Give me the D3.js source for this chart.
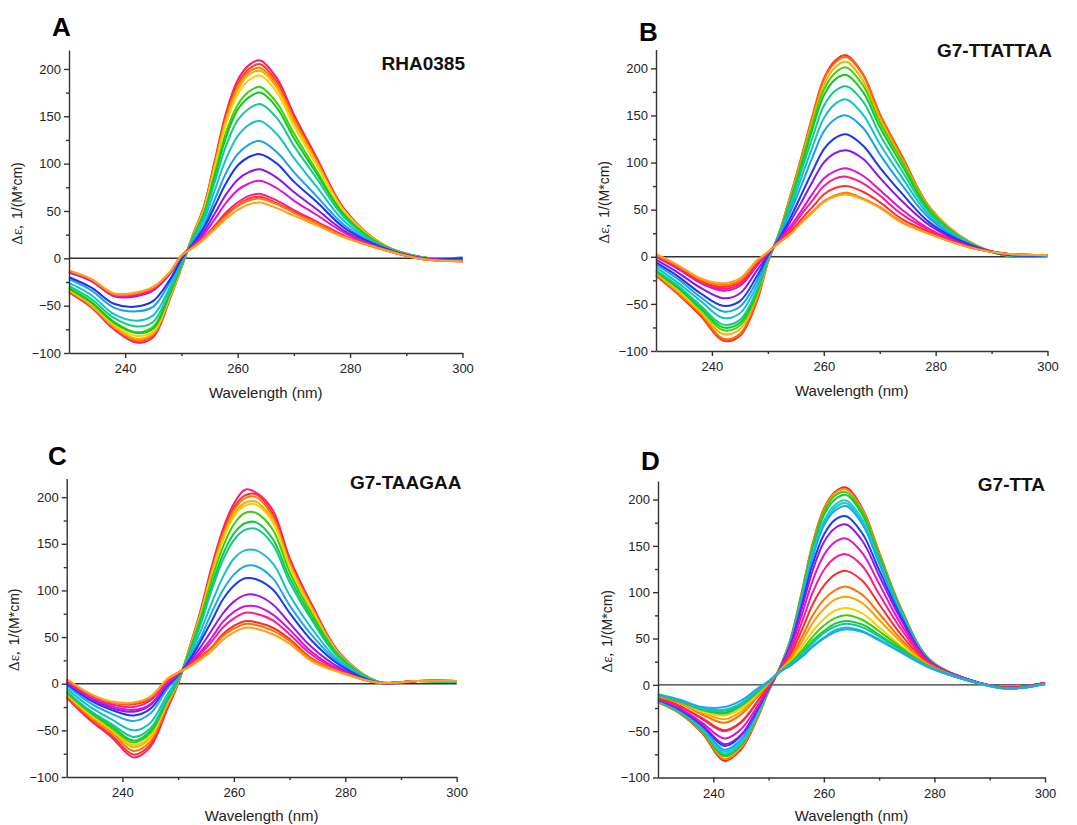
<!DOCTYPE html>
<html>
<head>
<meta charset="utf-8">
<script src="https://cdn.jsdelivr.net/npm/d3@7"></script>
<style>
  body { margin: 0; background: #fff; }
  svg { display: block; }
  text { font-family: Arial, "Liberation Sans", sans-serif; }
</style>
</head>
<body>
<svg id="chart" width="1077" height="825"></svg>
<script>
// wavelength grid (nm) shared by every spectrum
const wavelengths = [230, 234, 238, 242, 245, 248, 250, 252, 254, 256, 258, 260, 262, 264, 267, 270, 274, 279, 286, 293, 300];

// --- Panel A: RHA0385 ---
const seriesA = [
  [-36, -52, -75, -89, -83, -42, -10, 24, 55, 105, 155, 188, 204, 209, 190, 152, 107, 52, 14, 1, -1],
  [-35, -51, -73, -87, -81, -41, -9, 24, 54, 103, 152, 184, 200, 205, 186, 149, 105, 51, 14, 1, -1],
  [-35, -50, -73, -86, -80, -40, -9, 23, 53, 101, 149, 181, 197, 201, 183, 147, 103, 50, 14, 1, -1],
  [-34, -50, -72, -85, -79, -40, -9, 23, 52, 100, 147, 178, 194, 198, 180, 144, 102, 50, 14, 1, -1],
  [-33, -48, -70, -82, -77, -39, -8, 23, 51, 97, 143, 173, 188, 193, 175, 140, 99, 49, 13, 1, -1],
  [-31, -46, -67, -78, -72, -36, -7, 22, 48, 91, 134, 162, 176, 181, 164, 132, 93, 46, 13, 1, 0],
  [-32, -47, -68, -79, -74, -37, -8, 21, 47, 88, 129, 157, 170, 175, 159, 127, 90, 45, 13, 1, 0],
  [-29, -43, -63, -72, -67, -33, -6, 20, 44, 82, 120, 146, 158, 163, 148, 119, 85, 43, 12, 1, 0],
  [-26, -39, -59, -66, -60, -30, -4, 18, 40, 73, 106, 129, 141, 145, 131, 106, 76, 39, 12, 1, 0],
  [-22, -34, -52, -56, -51, -25, -2, 17, 35, 63, 91, 110, 120, 124, 112, 91, 66, 35, 11, 0, 1],
  [-20, -31, -48, -51, -45, -22, -1, 15, 32, 56, 80, 98, 107, 110, 100, 81, 60, 32, 11, 0, 0],
  [-15, -24, -40, -40, -34, -16, 2, 14, 28, 48, 68, 83, 91, 94, 85, 70, 52, 29, 10, 0, -2],
  [-14, -24, -39, -39, -33, -16, 2, 13, 25, 42, 59, 72, 79, 82, 74, 61, 46, 27, 10, 0, -2],
  [-14, -23, -39, -38, -32, -15, 2, 12, 22, 35, 49, 59, 66, 68, 61, 51, 39, 24, 9, -1, -3],
  [-13, -23, -38, -37, -31, -15, 3, 12, 21, 34, 47, 56, 63, 65, 58, 49, 38, 23, 9, -1, -3],
  [-13, -22, -38, -37, -31, -14, 3, 11, 21, 33, 45, 55, 61, 63, 57, 48, 37, 23, 9, -1, -3],
  [-13, -22, -37, -36, -30, -14, 3, 11, 20, 31, 42, 51, 57, 59, 53, 45, 35, 22, 9, -1, -3]
];
const colorsA = ['#ff1a6e', '#ff3d1f', '#ff7f00', '#ffa800', '#f2d600', '#3cd400', '#14c81e', '#12cc8c', '#14c4c8',
  '#1a9ff0', '#1a33f0', '#8c14f0', '#dc14d2', '#ff1a8c', '#ff3030', '#ff7a00', '#ffa01a'];

// --- Panel B: G7-TTATTAA ---
const seriesB = [
  [-20, -40, -63, -89, -84, -48, -6, 25, 64, 106, 150, 189, 208, 214, 194, 152, 107, 52, 16, 1, 1],
  [-19, -39, -61, -87, -82, -46, -6, 25, 64, 105, 149, 188, 206, 212, 193, 151, 106, 52, 16, 1, 1],
  [-18, -37, -59, -82, -77, -43, -5, 25, 62, 102, 145, 182, 201, 207, 187, 147, 103, 51, 16, 1, 1],
  [-16, -34, -56, -78, -73, -40, -4, 24, 60, 100, 141, 177, 195, 201, 182, 143, 101, 50, 15, 1, 1],
  [-15, -33, -54, -75, -70, -38, -3, 24, 58, 96, 136, 171, 188, 193, 175, 138, 97, 48, 15, 1, 1],
  [-14, -31, -52, -72, -67, -36, -3, 23, 55, 91, 127, 160, 176, 181, 165, 130, 91, 46, 15, 1, 1],
  [-11, -28, -47, -65, -60, -31, -2, 22, 51, 84, 117, 147, 162, 167, 151, 120, 84, 43, 14, 2, 1],
  [-8, -24, -43, -58, -53, -26, 0, 21, 47, 76, 106, 133, 146, 150, 137, 109, 76, 40, 13, 2, 2],
  [-6, -21, -39, -52, -47, -21, 1, 19, 41, 66, 91, 114, 126, 130, 118, 95, 67, 36, 13, 2, 2],
  [-3, -17, -33, -44, -39, -15, 2, 18, 37, 58, 80, 100, 110, 113, 104, 84, 59, 33, 12, 3, 2],
  [0, -13, -28, -36, -31, -10, 4, 17, 32, 49, 67, 83, 91, 94, 86, 71, 50, 29, 11, 3, 2],
  [1, -12, -27, -34, -29, -8, 4, 16, 29, 45, 60, 75, 83, 85, 78, 65, 45, 28, 11, 3, 2],
  [1, -11, -26, -32, -27, -7, 4, 16, 26, 40, 53, 66, 73, 75, 69, 58, 40, 26, 10, 3, 2],
  [2, -10, -24, -30, -25, -5, 5, 15, 24, 37, 48, 59, 65, 68, 62, 53, 37, 24, 10, 3, 2],
  [3, -9, -23, -28, -23, -4, 5, 15, 24, 36, 47, 58, 64, 66, 61, 52, 36, 24, 10, 3, 2]
];
const colorsB = ['#ff2a2a', '#ff6a00', '#ffb000', '#40d400', '#14c828', '#12cc8c', '#14c0c8', '#1aa0f0', '#1a38f0',
  '#8c14f0', '#dc14d2', '#ff1a8c', '#ff3030', '#ff7a00', '#ffa01a'];

// --- Panel C: G7-TAAGAA ---
const seriesC = [
  [-15, -38, -57, -79, -68, -28, 0, 38, 78, 125, 165, 193, 208, 205, 186, 135, 85, 33, 2, 3, 2],
  [-14, -37, -55, -76, -65, -26, 1, 37, 76, 122, 161, 189, 202, 203, 182, 132, 83, 32, 2, 3, 2],
  [-13, -35, -52, -72, -62, -24, 1, 37, 75, 120, 159, 186, 199, 200, 179, 130, 82, 32, 2, 3, 2],
  [-11, -33, -50, -68, -58, -22, 2, 36, 74, 118, 156, 182, 194, 195, 175, 128, 80, 31, 2, 3, 2],
  [-11, -32, -49, -66, -56, -21, 3, 36, 73, 116, 153, 179, 191, 192, 173, 126, 79, 31, 2, 3, 2],
  [-10, -30, -47, -63, -53, -19, 3, 35, 70, 111, 146, 171, 183, 183, 165, 120, 75, 30, 2, 3, 2],
  [-9, -29, -45, -61, -51, -18, 4, 33, 66, 104, 138, 161, 172, 173, 155, 114, 71, 28, 2, 3, 2],
  [-8, -28, -43, -57, -48, -16, 4, 32, 63, 100, 132, 154, 165, 166, 149, 109, 68, 27, 2, 3, 2],
  [-5, -24, -38, -50, -42, -12, 6, 29, 56, 86, 114, 134, 143, 143, 129, 95, 59, 24, 2, 3, 2],
  [-2, -20, -32, -40, -32, -6, 8, 27, 49, 76, 100, 117, 126, 126, 113, 84, 52, 22, 1, 3, 3],
  [0, -17, -28, -34, -27, -3, 9, 25, 45, 67, 90, 105, 113, 112, 101, 76, 46, 20, 1, 3, 3],
  [2, -15, -26, -30, -23, -1, 10, 23, 39, 57, 75, 88, 95, 95, 85, 65, 39, 17, 1, 3, 3],
  [2, -14, -24, -28, -22, 0, 10, 21, 34, 49, 66, 77, 83, 83, 74, 58, 34, 15, 1, 3, 3],
  [3, -12, -22, -25, -18, 2, 11, 20, 32, 45, 60, 70, 76, 75, 68, 53, 31, 14, 1, 3, 3],
  [4, -11, -20, -22, -16, 4, 12, 19, 29, 39, 53, 62, 67, 66, 60, 48, 27, 13, 1, 3, 3],
  [5, -11, -20, -21, -15, 4, 12, 19, 28, 38, 51, 59, 64, 63, 57, 46, 26, 13, 1, 3, 3],
  [5, -10, -19, -20, -14, 5, 12, 18, 26, 35, 47, 55, 60, 59, 53, 43, 24, 12, 1, 3, 3]
];
const colorsC = ['#ff1a80', '#ff3030', '#ff7a00', '#ffaa00', '#f0d000', '#3cd000', '#14c840', '#12c890', '#14c0c0',
  '#1aa8f0', '#1a3af0', '#9a14f0', '#d014e0', '#ff1a90', '#ff2a2a', '#ff7000', '#ffa01a'];

// --- Panel D: G7-TTA ---
const seriesD = [
  [-19, -31, -52, -82, -70, -36, -7, 18, 50, 100, 153, 190, 208, 213, 190, 143, 82, 28, 6, -3, 2],
  [-19, -31, -51, -80, -68, -35, -7, 18, 50, 99, 152, 189, 207, 211, 189, 142, 82, 28, 6, -3, 2],
  [-18, -30, -50, -77, -65, -33, -6, 18, 49, 98, 150, 186, 204, 208, 186, 140, 81, 28, 6, -3, 2],
  [-18, -30, -49, -76, -65, -33, -6, 18, 49, 97, 147, 183, 200, 205, 183, 138, 80, 28, 6, -3, 2],
  [-18, -29, -48, -74, -63, -32, -5, 18, 47, 94, 143, 177, 194, 199, 178, 134, 78, 27, 6, -3, 2],
  [-17, -28, -47, -72, -61, -31, -5, 18, 47, 92, 141, 175, 191, 196, 175, 133, 77, 27, 6, -3, 2],
  [-17, -28, -46, -70, -59, -29, -5, 17, 46, 91, 138, 172, 188, 193, 173, 131, 76, 27, 6, -3, 2],
  [-16, -27, -44, -66, -55, -27, -4, 17, 44, 86, 131, 162, 178, 182, 163, 124, 73, 26, 6, -3, 2],
  [-16, -26, -43, -64, -54, -26, -4, 17, 42, 82, 124, 154, 169, 173, 155, 118, 70, 26, 6, -3, 2],
  [-15, -25, -41, -58, -48, -23, -3, 17, 40, 75, 113, 140, 154, 158, 142, 109, 65, 25, 6, -3, 2],
  [-14, -23, -37, -50, -41, -18, -1, 16, 36, 67, 100, 124, 137, 141, 128, 98, 60, 24, 5, -3, 2],
  [-14, -23, -36, -49, -40, -18, -1, 16, 33, 59, 87, 107, 119, 123, 112, 87, 54, 23, 5, -3, 2],
  [-13, -20, -32, -41, -32, -13, 1, 15, 30, 51, 75, 92, 102, 106, 97, 77, 49, 22, 5, -4, 1],
  [-12, -19, -30, -37, -29, -11, 2, 15, 28, 46, 67, 82, 92, 95, 88, 70, 46, 21, 5, -4, 1],
  [-11, -18, -29, -33, -26, -9, 2, 15, 25, 41, 58, 71, 80, 83, 77, 62, 42, 20, 5, -4, 1],
  [-11, -18, -27, -31, -23, -8, 3, 14, 24, 37, 52, 64, 72, 75, 70, 58, 40, 20, 5, -4, 1],
  [-11, -18, -27, -30, -22, -7, 3, 14, 23, 34, 48, 58, 66, 69, 65, 54, 38, 20, 5, -4, 1],
  [-11, -17, -26, -28, -21, -6, 3, 14, 22, 33, 45, 56, 63, 66, 62, 52, 37, 19, 5, -4, 1],
  [-10, -17, -25, -27, -20, -6, 3, 14, 21, 31, 42, 51, 59, 62, 58, 49, 35, 19, 5, -4, 1],
  [-10, -16, -24, -24, -17, -4, 4, 14, 21, 30, 41, 50, 57, 60, 57, 48, 35, 19, 5, -4, 1]
];
const colorsD = ['#ff2020', '#ff8c00', '#3cd000', '#14c840', '#20d0b0', '#18c8e8', '#1aa8f0', '#1a40f0', '#9a14f0',
  '#e014d0', '#ff1a90', '#ff2a2a', '#ff7000', '#ffa000', '#f0d000', '#3cd000', '#14c840', '#12c890', '#14c0d0', '#1aa8f0'];

// axis ticks
const xMajor = [240, 260, 280, 300];
const xMinor = [250, 270, 290];
const yMajor = [-100, -50, 0, 50, 100, 150, 200];
const yMinor = [-75, -25, 25, 75, 125, 175];

// panel layout (pixel boxes)
const panels = [
  { letter: 'A', title: 'RHA0385', series: seriesA, colors: colorsA,
    x0: 69, x1: 462.5, yTop: 50, yBot: 353, letterX: 52, letterY: 36, titleX: 465, titleY: 70, ylabX: 22, xlabY: 398 },
  { letter: 'B', title: 'G7-TTATTAA', series: seriesB, colors: colorsB,
    x0: 656, x1: 1047.5, yTop: 49.5, yBot: 351, letterX: 639, letterY: 41, titleX: 1052, titleY: 56.5, ylabX: 609, xlabY: 396 },
  { letter: 'C', title: 'G7-TAAGAA', series: seriesC, colors: colorsC,
    x0: 66.7, x1: 456.7, yTop: 478.5, yBot: 777, letterX: 48, letterY: 465, titleX: 461.5, titleY: 488.5, ylabX: 19, xlabY: 821 },
  { letter: 'D', title: 'G7-TTA', series: seriesD, colors: colorsD,
    x0: 658, x1: 1045, yTop: 481, yBot: 777.5, letterX: 641, letterY: 470, titleX: 1045, titleY: 491, ylabX: 611.5, xlabY: 821 }
];

const svg = d3.select('#chart');
svg.append('rect').attr('width', 1077).attr('height', 825).attr('fill', '#fff');

panels.forEach(p => {
  const x = d3.scaleLinear().domain([230, 300]).range([p.x0, p.x1]);
  const y = d3.scaleLinear().domain([-100, 220]).range([p.yBot, p.yTop]);
  const g = svg.append('g');

  // zero line
  g.append('line')
    .attr('x1', x(230)).attr('x2', x(300))
    .attr('y1', y(0)).attr('y2', y(0))
    .attr('stroke', '#333').attr('stroke-width', 1.4);

  const line = d3.line()
    .x((d, i) => x(wavelengths[i]))
    .y(d => y(d))
    .curve(d3.curveCatmullRom.alpha(0.5));

  g.selectAll('path.spec')
    .data(p.series)
    .join('path')
    .attr('class', 'spec')
    .attr('d', line)
    .attr('fill', 'none')
    .attr('stroke', (d, i) => p.colors[i])
    .attr('stroke-width', 2)
    .attr('stroke-linejoin', 'round');

  // axes
  g.append('g').attr('transform', `translate(0,${p.yBot})`)
    .call(d3.axisBottom(x).tickValues(xMajor).tickSize(5).tickSizeOuter(0).tickPadding(6));
  g.append('g').attr('transform', `translate(0,${p.yBot})`)
    .call(d3.axisBottom(x).tickValues(xMinor).tickSize(3).tickSizeOuter(0).tickFormat(''))
    .select('.domain').remove();

  g.append('g').attr('transform', `translate(${p.x0},0)`)
    .call(d3.axisLeft(y).tickValues(yMajor).tickSize(5).tickSizeOuter(0).tickPadding(3));
  g.append('g').attr('transform', `translate(${p.x0},0)`)
    .call(d3.axisLeft(y).tickValues(yMinor).tickSize(3).tickSizeOuter(0).tickFormat(''))
    .select('.domain').remove();

  g.selectAll('.domain, .tick line').attr('stroke', '#333').attr('stroke-width', 1.4);
  g.selectAll('.tick text')
    .attr('fill', '#222')
    .style('font-size', '13px')
    .style('font-family', 'Arial, "Liberation Sans", sans-serif');

  // panel letter
  g.append('text')
    .attr('x', p.letterX).attr('y', p.letterY)
    .style('font-size', '26px').style('font-weight', 'bold')
    .attr('fill', '#000')
    .text(p.letter);

  // sample name
  g.append('text')
    .attr('x', p.titleX).attr('y', p.titleY)
    .attr('text-anchor', 'end')
    .style('font-size', '19px').style('font-weight', 'bold')
    .attr('fill', '#111')
    .text(p.title);

  // x label
  g.append('text')
    .attr('x', (p.x0 + p.x1) / 2).attr('y', p.xlabY)
    .attr('text-anchor', 'middle')
    .style('font-size', '15px').attr('fill', '#222')
    .text('Wavelength (nm)');

  // y label
  const yl = g.append('text')
    .attr('transform', `translate(${p.ylabX},${(p.yTop + p.yBot) / 2 + 2}) rotate(-90)`)
    .attr('text-anchor', 'middle')
    .style('font-size', '14px').attr('fill', '#222');
  yl.append('tspan').style('font-family', '"Liberation Serif", "DejaVu Serif", serif').style('font-size', '15px').text('Δε,');
  yl.append('tspan').attr('dx', 6).text('1/(M*cm)');
});
</script>
</body>
</html>
